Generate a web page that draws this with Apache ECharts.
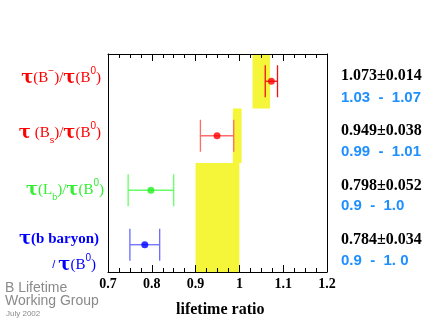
<!DOCTYPE html>
<html>
<head>
<meta charset="utf-8">
<script src="https://cdn.jsdelivr.net/npm/echarts@6/dist/echarts.min.js"></script>
<style>
  html, body { margin: 0; padding: 0; background: #fff; }
  #chart { width: 436px; height: 327px; }
</style>
</head>
<body>
<div id="chart"></div>
<script>
// lifetime ratios, rows from top to bottom
var ratios = [1.073, 0.949, 0.798, 0.784];
var errors = [0.014, 0.038, 0.052, 0.034];
var rowPos = [3.5, 2.5, 1.5, 0.5];
var ratioText = ['1.073\u00b10.014', '0.949\u00b10.038', '0.798\u00b10.052', '0.784\u00b10.034'];
var rangeText = ['1.03  -  1.07', '0.99  -  1.01', '0.9  -  1.0', '0.9  -  1. 0'];
// yellow theory bands: [lo, hi, rowLo, rowHi]
var bandLo = [1.03, 0.985, 0.9];
var bandHi = [1.07, 1.005, 1.0];
var bandRowLo = [3, 2, 0];
var bandRowHi = [4, 3, 2];

var pointColors = ['#ff0000', '#ff0000', '#22ee22', '#0000ff'];
var barColors = ['#ee1111', '#ff6a6a', '#66ff66', '#6a6aff'];

var bandData = bandLo.map(function (lo, i) { return [lo, bandRowHi[i], bandHi[i], bandRowLo[i]]; });
var errData = ratios.map(function (v, i) { return [v, rowPos[i], errors[i], i]; });
var ptData = ratios.map(function (v, i) {
  return { value: [v, rowPos[i]], itemStyle: { color: pointColors[i] } };
});

var myChart = echarts.init(document.getElementById('chart'));

function lbl(parts, color, x, y) {
  return {
    type: 'text', right: 436 - x, top: y,
    style: {
      text: parts,
      fill: color,
      fontFamily: 'Liberation Serif', fontSize: 15,
      rich: {
        t: { fontSize: 18, fontWeight: 'bold', fontFamily: 'DejaVu Serif', fill: color },
        p: { fontSize: 15, fontFamily: 'Liberation Serif', fill: color },
        s: { fontSize: 10, fontFamily: 'Liberation Sans', fill: color, verticalAlign: 'top', lineHeight: 24 },
        u: { fontSize: 9, fontFamily: 'Liberation Sans', fill: color, verticalAlign: 'bottom', lineHeight: 22 },
        b: { fontSize: 15, fontWeight: 'bold', fontFamily: 'Liberation Serif', fill: color },
        q: { fontSize: 11, fontFamily: 'Liberation Sans', fill: color }
      }
    }
  };
}

var graphics = [
  lbl('{t|\u03c4}{p|(B}{s|\u2212}{p|)/}{t|\u03c4}{p|(B}{s|0}{p|)}', '#ff0000', 101, 66),
  lbl('{t|\u03c4} {p|(B}{u|s}{p|)/}{t|\u03c4}{p|(B}{s|0}{p|)}', '#ff0000', 101, 121),
  lbl('{t|\u03c4}{p|(L}{u|b}{p|)/}{t|\u03c4}{p|(B}{s|0}{p|)}', '#33ee33', 104, 178),
  lbl('{t|\u03c4}{b|(b baryon)}', '#0000ff', 99, 230),
  lbl('{q|/ }{t|\u03c4}{p|(B}{s|0}{p|)}', '#0000ff', 96, 253),
  { type: 'text', left: 5, top: 281, style: { text: 'B Lifetime', fill: '#8a8a8a', fontFamily: 'Liberation Sans', fontSize: 14 } },
  { type: 'text', left: 5, top: 294, style: { text: 'Working Group', fill: '#8a8a8a', fontFamily: 'Liberation Sans', fontSize: 14 } },
  { type: 'text', left: 6, top: 310, style: { text: 'July 2002', fill: '#8a8a8a', fontFamily: 'Liberation Sans', fontSize: 8 } },
  { type: 'text', left: 176, top: 302, style: { text: 'lifetime ratio', fill: '#000', fontFamily: 'Liberation Serif', fontWeight: 'bold', fontSize: 16 } }
];
ratioText.forEach(function (t, i) {
  graphics.push({ type: 'text', left: 341, top: 68 + i * 54.7, style: { text: t, fill: '#000', fontFamily: 'Liberation Serif', fontWeight: 'bold', fontSize: 16 } });
  graphics.push({ type: 'text', left: 341, top: 90 + i * 54.4, style: { text: rangeText[i], fill: '#1e8fff', fontFamily: 'Liberation Sans', fontWeight: 'bold', fontSize: 15 } });
});

function xAx(pos, labels) {
  return {
    type: 'value', position: pos, min: 0.7, max: 1.2, interval: 0.1, z: 5,
    axisLine: { show: true, onZero: false, lineStyle: { color: '#000', width: 1 } },
    axisTick: { show: true, inside: true, length: 7, lineStyle: { color: '#000', width: 1 } },
    minorTick: { show: true, splitNumber: 4, length: 4, lineStyle: { color: '#000', width: 1 } },
    splitLine: { show: false },
    axisLabel: {
      show: labels, color: '#000', fontFamily: 'Liberation Serif', fontWeight: 'bold', fontSize: 14, margin: 5,
      formatter: function (v) { return String(+v.toFixed(1)); }
    }
  };
}
function yAx(pos) {
  return {
    type: 'value', position: pos, min: 0, max: 4,
    axisLine: { show: true, onZero: false, lineStyle: { color: '#000', width: 1 } },
    axisTick: { show: false }, axisLabel: { show: false }, splitLine: { show: false }
  };
}

var option = {
  animation: false,
  grid: { left: 108, right: 109, top: 54, bottom: 55 },
  xAxis: [xAx('bottom', true), xAx('top', false)],
  yAxis: [yAx('left'), yAx('right')],
  graphic: graphics,
  series: [{
    type: 'custom',
    data: bandData,
    z: 1,
    renderItem: function (params, api) {
      var p1 = api.coord([api.value(0), api.value(1)]);
      var p2 = api.coord([api.value(2), api.value(3)]);
      return { type: 'rect', shape: { x: p1[0], y: p1[1], width: p2[0] - p1[0], height: p2[1] - p1[1] }, style: { fill: '#f5f53a' } };
    }
  }, {
    type: 'custom',
    data: errData,
    z: 3,
    renderItem: function (params, api) {
      var c = api.value(0), r = api.value(1), e = api.value(2), idx = api.value(3);
      var a = api.coord([c - e, r]);
      var b = api.coord([c + e, r]);
      var h = 16;
      var st = { stroke: barColors[idx], lineWidth: 1.3 };
      return {
        type: 'group',
        children: [
          { type: 'line', shape: { x1: a[0], y1: a[1], x2: b[0], y2: b[1] }, style: st },
          { type: 'line', shape: { x1: a[0], y1: a[1] - h, x2: a[0], y2: a[1] + h }, style: st },
          { type: 'line', shape: { x1: b[0], y1: b[1] - h, x2: b[0], y2: b[1] + h }, style: st }
        ]
      };
    }
  }, {
    type: 'scatter',
    data: ptData,
    symbolSize: 7,
    z: 4
  }]
};
myChart.setOption(option);
</script>
</body>
</html>
